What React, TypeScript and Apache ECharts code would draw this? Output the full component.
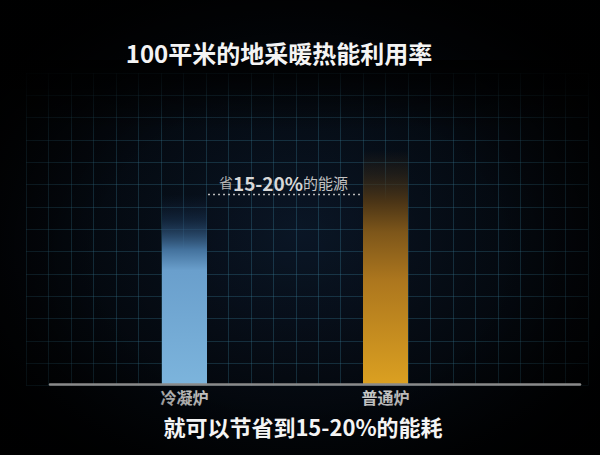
import { useEffect, useRef } from 'react'
import * as echarts from 'echarts'

// chart data
const categories = ['冷凝炉', '普通炉']
const usageValues = [81, 100]
const titleText = '100平米的地采暖热能利用率'
const footerText = '就可以节省到15-20%的能耗'
const savingPrefix = '省'
const savingRange = '15-20%'
const savingSuffix = '的能源'

// background grid cells
const GRID_COLS = 25
const GRID_ROWS = 14

const FONT = '"Noto Sans CJK SC", "Noto Sans", sans-serif'
const BAR_WIDTH = 45
const GRID_LINE = 'rgba(60,130,160,0.32)'

const barGradients = [
  [
    { offset: 0, color: 'rgba(20,40,70,0)' },
    { offset: 0.13, color: 'rgba(30,60,95,0.45)' },
    { offset: 0.29, color: '#43719c' },
    { offset: 0.4, color: '#6a9fcc' },
    { offset: 1, color: '#7cb4dc' },
  ],
  [
    { offset: 0, color: 'rgba(60,45,25,0)' },
    { offset: 0.1, color: 'rgba(60,45,25,0.45)' },
    { offset: 0.22, color: '#4a3416' },
    { offset: 0.35, color: '#7d561a' },
    { offset: 0.56, color: '#ad771e' },
    { offset: 1, color: '#dba021' },
  ],
]

export default function App() {
  const ref = useRef<HTMLDivElement>(null)

  useEffect(() => {
    if (!ref.current) return
    const chart = echarts.init(ref.current, undefined, { renderer: 'svg' })

    const hidden = { show: false }

    const option: echarts.EChartsOption = {
      animation: false,
      backgroundColor: new echarts.graphic.RadialGradient(0.5, 0.5, 0.6, [
        { offset: 0, color: '#0a1626' },
        { offset: 1, color: '#010204' },
      ]),
      grid: [
        // decorative background grid
        { left: 26, right: 12, top: 73, bottom: 69.4 },
        // bars
        { left: 84, right: 114, top: 150, bottom: 71 },
        // baseline
        { left: 50, right: 20, top: 383, bottom: 71 },
      ],
      xAxis: [
        {
          gridIndex: 0,
          type: 'value',
          min: 0,
          max: GRID_COLS,
          interval: 1,
          axisLine: hidden,
          axisTick: hidden,
          axisLabel: hidden,
          splitLine: { show: true, lineStyle: { color: GRID_LINE, width: 1 } },
        },
        {
          gridIndex: 1,
          type: 'category',
          data: categories,
          axisLine: hidden,
          axisTick: hidden,
          axisLabel: {
            color: '#e2e2e2',
            fontSize: 16,
            fontWeight: 'bold',
            fontFamily: FONT,
            margin: 5,
          },
        },
        {
          gridIndex: 2,
          type: 'value',
          min: 0,
          max: 1,
          axisLine: { show: true, lineStyle: { color: '#8a8a8a', width: 2.5 } },
          axisTick: hidden,
          axisLabel: hidden,
          splitLine: hidden,
          z: 4,
        },
      ],
      yAxis: [
        {
          gridIndex: 0,
          type: 'value',
          min: 0,
          max: GRID_ROWS,
          interval: 1,
          axisLine: hidden,
          axisTick: hidden,
          axisLabel: hidden,
          splitLine: { show: true, lineStyle: { color: GRID_LINE, width: 1 } },
        },
        {
          gridIndex: 1,
          type: 'value',
          min: 0,
          max: 100,
          axisLine: hidden,
          axisTick: hidden,
          axisLabel: hidden,
          splitLine: hidden,
        },
        {
          gridIndex: 2,
          type: 'value',
          show: false,
        },
      ],
      series: [
        {
          type: 'bar',
          xAxisIndex: 1,
          yAxisIndex: 1,
          barWidth: BAR_WIDTH,
          z: 3,
          data: usageValues.map((v, i) => ({
            value: v,
            itemStyle: {
              color: new echarts.graphic.LinearGradient(0, 0, 0, 1, barGradients[i]),
            },
          })),
        },
      ],
    }

    chart.setOption(option)

    // annotation between bar tops, positioned from the scales
    const low = chart.convertToPixel({ seriesIndex: 0 }, [0, usageValues[0]]) as number[]
    const high = chart.convertToPixel({ seriesIndex: 0 }, [1, usageValues[0]]) as number[]
    const x1 = low[0] + BAR_WIDTH / 2 + 1
    const x2 = high[0] - BAR_WIDTH / 2
    const y = low[1]

    chart.setOption({
      graphic: [
        // vignette over background grid
        {
          type: 'rect',
          z: 1,
          silent: true,
          shape: { x: 0, y: 0, width: 600, height: 455 },
          style: {
            fill: new echarts.graphic.RadialGradient(0.5, 0.55, 0.62, [
              { offset: 0, color: 'rgba(0,0,0,0)' },
              { offset: 0.55, color: 'rgba(0,0,0,0.12)' },
              { offset: 1, color: 'rgba(0,0,0,0.9)' },
            ]),
          },
        },
        {
          type: 'rect',
          z: 1,
          silent: true,
          shape: { x: 0, y: 60, width: 600, height: 70 },
          style: {
            fill: new echarts.graphic.LinearGradient(0, 0, 0, 1, [
              { offset: 0, color: 'rgba(0,0,0,0.85)' },
              { offset: 1, color: 'rgba(0,0,0,0)' },
            ]),
          },
        },
        {
          type: 'line',
          z: 5,
          shape: { x1, y1: y, x2, y2: y },
          style: { stroke: '#b8b8b8', lineWidth: 1.5, lineDash: [2, 3] },
        },
        {
          type: 'text',
          z: 5,
          x: (x1 + x2) / 2 - 2,
          y: y - 12,
          style: {
            text: `{a|${savingPrefix}}{b|${savingRange}}{c|${savingSuffix}}`,
            align: 'center',
            verticalAlign: 'middle',
            fontFamily: FONT,
            fill: '#c4c4c4',
            rich: {
              a: { fontSize: 14, fill: '#b8b8b8', fontFamily: FONT },
              b: { fontSize: 19, fontWeight: 'bold', fill: '#d8d8d8', fontFamily: FONT },
              c: { fontSize: 15, fill: '#c4c4c4', fontFamily: FONT },
            },
          },
        },
        {
          type: 'text',
          z: 5,
          x: 279,
          y: 52,
          style: {
            text: titleText,
            align: 'center',
            verticalAlign: 'middle',
            fontSize: 24,
            fontWeight: 'bold',
            fontFamily: FONT,
            fill: '#f4f4f4',
          },
        },
        {
          type: 'text',
          z: 5,
          x: 303,
          y: 426,
          style: {
            text: footerText,
            align: 'center',
            verticalAlign: 'middle',
            fontSize: 22,
            fontWeight: 'bold',
            fontFamily: FONT,
            fill: '#f4f4f4',
          },
        },
      ],
    })

    return () => {
      chart.dispose()
    }
  }, [])

  return (
    <div
      ref={ref}
      style={{ position: 'fixed', left: 0, top: 0, width: 600, height: 455, background: '#000' }}
    />
  )
}
